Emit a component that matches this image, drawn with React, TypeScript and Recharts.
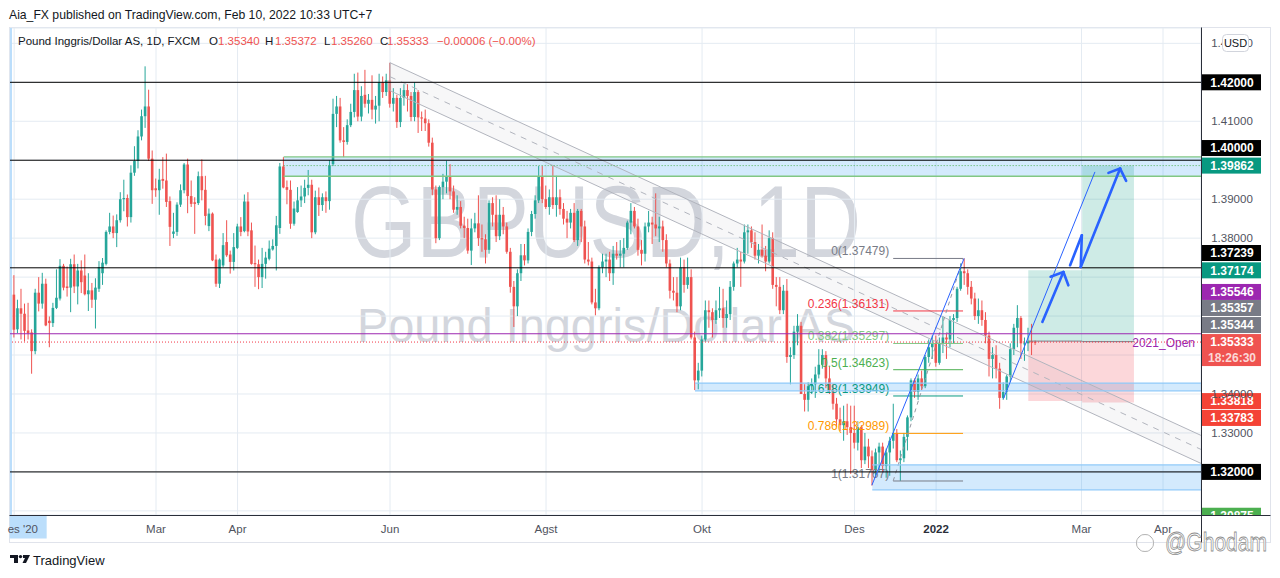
import React from 'react';
import {
  ComposedChart,
  Bar,
  Area,
  XAxis,
  YAxis,
  CartesianGrid,
  ReferenceLine,
  ReferenceArea,
} from 'recharts';

const FONT = '"Liberation Sans", Arial, Helvetica, sans-serif';
const UP = '#26a69a';
const DOWN = '#ef5350';

// GBPUSD daily (FXCM), 31 Dec 2020 .. 10 Feb 2022, values in pips above 1.00000
const opens = [
  3625, 3655, 3566, 3620, 3606, 3563, 3558, 3510, 3660, 3632, 3683, 3588, 3582, 3621, 3645, 3729, 3676, 3673, 3733, 3676, 3717,
  3704, 3656, 3666, 3642, 3670, 3710, 3734, 3816, 3830, 3813, 3846, 3900, 3903, 3854, 3968, 3998, 4061, 4113, 4138, 4004,
  3928, 3923, 3952, 3948, 3895, 3811, 3816, 3886, 3923, 3989, 3908, 3892, 3890, 3959, 3924, 3831, 3863, 3745, 3683, 3730, 3790, 3758, 3739,
  3775, 3830, 3818, 3894, 3820, 3736, 3733, 3700, 3734, 3747, 3771, 3780, 3826, 3984, 3931, 3924, 3837, 3867, 3897, 3907, 3929, 3937,
  3815, 3905, 3885, 3905, 3895, 3990, 4119, 4138, 4051, 4047, 4090, 4124, 4180, 4112, 4168, 4145, 4155, 4130, 4140, 4200, 4175,
  4205, 4145, 4160, 4098, 4160, 4180, 4165, 4111, 4175, 4110, 4107, 4095, 4045, 3925, 3800, 3931, 3945, 3957, 3920, 3873, 3880, 3832,
  3826, 3768, 3825, 3838, 3800, 3797, 3770, 3890, 3860, 3805, 3860, 3830, 3765, 3675, 3625, 3710, 3756, 3743, 3816, 3862, 3897, 3957,
  3900, 3880, 3905, 3885, 3905, 3875, 3850, 3840, 3865, 3795, 3870, 3830, 3745, 3740, 3635, 3620, 3725, 3740, 3745, 3710, 3760, 3755,
  3760, 3775, 3840, 3870, 3830, 3770, 3760, 3830, 3840, 3835, 3825, 3830, 3795, 3735, 3665, 3660, 3625, 3725, 3680, 3700, 3545, 3435,
  3460, 3540, 3615, 3610, 3590, 3615, 3620, 3595, 3605, 3675, 3735, 3745, 3740, 3815, 3820, 3790, 3755, 3770, 3755, 3740, 3800,
  3680, 3675, 3615, 3665, 3495, 3500, 3560, 3575, 3400, 3385, 3420, 3425, 3450, 3475, 3500, 3440, 3410, 3375, 3335, 3320, 3330, 3315,
  3300, 3275, 3315, 3230, 3265, 3240, 3205, 3250, 3265, 3215, 3250, 3280, 3300, 3230, 3235, 3290, 3340, 3435, 3405, 3440, 3420, 3495, 3520,
  3530, 3480, 3530, 3545, 3540, 3590, 3595, 3670, 3715, 3710, 3675, 3645, 3600, 3615, 3590, 3550, 3490, 3500, 3465, 3390, 3405,
  3445, 3515, 3570, 3595, 3530, 3530, 3535, 3534.0,
];
const highs = [
  3660, 3705, 3642, 3670, 3632, 3634, 3566, 3670, 3700, 3711, 3696, 3599, 3634, 3720, 3746, 3734, 3727, 3747, 3758, 3734, 3743,
  3758, 3710, 3685, 3697, 3741, 3749, 3820, 3865, 3858, 3861, 3918, 3950, 3912, 3987, 4036, 4077, 4130, 4241, 4181, 4025,
  3953, 3978, 4008, 4017, 3907, 3865, 3892, 3938, 3993, 4004, 3948, 3905, 3971, 4002, 3960, 3876, 3866, 3758, 3748, 3813, 3846, 3768, 3813,
  3837, 3854, 3912, 3918, 3840, 3781, 3745, 3775, 3765, 3794, 3797, 3857, 3993, 4008, 3948, 3948, 3894, 3931, 3935, 3950, 3975, 3950,
  3922, 3930, 3915, 3920, 4000, 4158, 4165, 4160, 4085, 4105, 4145, 4222, 4225, 4190, 4232, 4170, 4218, 4165, 4222, 4215, 4222,
  4250, 4185, 4168, 4185, 4195, 4195, 4175, 4200, 4180, 4125, 4130, 4105, 4058, 3935, 3935, 3965, 3999, 3990, 3935, 3910, 3895, 3855,
  3850, 3850, 3865, 3910, 3835, 3810, 3897, 3905, 3910, 3900, 3880, 3840, 3775, 3690, 3720, 3785, 3785, 3825, 3870, 3910, 3985, 3985,
  3935, 3925, 3985, 3960, 3925, 3890, 3870, 3875, 3890, 3875, 3875, 3845, 3790, 3750, 3670, 3730, 3760, 3760, 3765, 3780, 3790, 3795,
  3800, 3845, 3890, 3880, 3850, 3795, 3840, 3870, 3855, 3915, 3855, 3845, 3810, 3745, 3700, 3700, 3750, 3745, 3750, 3720, 3560, 3480,
  3550, 3640, 3640, 3620, 3640, 3675, 3670, 3640, 3690, 3740, 3775, 3765, 3835, 3835, 3830, 3815, 3785, 3835, 3780, 3820, 3815,
  3700, 3700, 3680, 3695, 3520, 3575, 3605, 3585, 3425, 3430, 3440, 3470, 3515, 3515, 3510, 3470, 3425, 3390, 3365, 3370, 3375, 3370,
  3370, 3330, 3320, 3300, 3285, 3255, 3260, 3275, 3275, 3260, 3290, 3375, 3310, 3255, 3300, 3345, 3440, 3440, 3450, 3460, 3500, 3540, 3550,
  3550, 3545, 3600, 3555, 3600, 3605, 3675, 3735, 3748, 3720, 3690, 3660, 3645, 3640, 3610, 3560, 3520, 3525, 3480, 3430, 3450,
  3530, 3580, 3628, 3600, 3545, 3570, 3580, 3537.2,
];
const lows = [
  3618, 3545, 3556, 3540, 3535, 3540, 3452, 3502, 3612, 3619, 3574, 3520, 3572, 3618, 3640, 3666, 3650, 3610, 3659, 3630, 3659,
  3653, 3613, 3621, 3568, 3662, 3680, 3730, 3810, 3800, 3777, 3840, 3869, 3830, 3840, 3960, 3979, 4051, 4083, 3998, 3888,
  3906, 3860, 3927, 3880, 3780, 3800, 3806, 3880, 3915, 3864, 3880, 3811, 3885, 3897, 3833, 3818, 3741, 3675, 3672, 3725, 3752, 3709, 3717,
  3772, 3805, 3815, 3805, 3732, 3675, 3669, 3672, 3696, 3743, 3768, 3717, 3811, 3928, 3887, 3824, 3832, 3865, 3880, 3890, 3910, 3800,
  3810, 3857, 3870, 3865, 3873, 3985, 4085, 4045, 4008, 4040, 4085, 4110, 4100, 4100, 4135, 4120, 4105, 4094, 4100, 4160, 4165,
  4135, 4125, 4083, 4085, 4140, 4125, 4100, 4100, 4070, 4075, 4075, 4035, 3910, 3787, 3795, 3900, 3915, 3900, 3865, 3860, 3825, 3800,
  3760, 3731, 3815, 3780, 3765, 3735, 3760, 3830, 3790, 3795, 3810, 3760, 3660, 3572, 3600, 3690, 3730, 3735, 3805, 3850, 3890, 3890,
  3875, 3860, 3875, 3855, 3860, 3835, 3800, 3825, 3790, 3780, 3790, 3735, 3730, 3630, 3602, 3615, 3710, 3700, 3690, 3680, 3745, 3725,
  3725, 3770, 3810, 3825, 3755, 3730, 3740, 3815, 3785, 3805, 3790, 3765, 3725, 3645, 3640, 3610, 3615, 3660, 3670, 3540, 3410, 3412,
  3445, 3535, 3570, 3545, 3580, 3595, 3570, 3570, 3590, 3665, 3725, 3675, 3735, 3760, 3775, 3745, 3735, 3750, 3715, 3735, 3670,
  3625, 3605, 3605, 3480, 3425, 3490, 3525, 3400, 3355, 3355, 3400, 3390, 3440, 3465, 3415, 3400, 3360, 3315, 3305, 3280, 3295, 3195,
  3260, 3255, 3210, 3220, 3210, 3165, 3190, 3200, 3200, 3185, 3190, 3260, 3225, 3177, 3225, 3255, 3330, 3390, 3385, 3410, 3415, 3480, 3490,
  3470, 3475, 3505, 3490, 3520, 3530, 3585, 3665, 3680, 3655, 3630, 3590, 3580, 3575, 3530, 3445, 3440, 3440, 3362, 3385, 3385,
  3430, 3500, 3520, 3490, 3485, 3510, 3500, 3526.0,
];
const closes = [
  3655, 3565, 3620, 3606, 3562, 3556, 3510, 3660, 3632, 3683, 3576, 3582, 3621, 3647, 3729, 3673, 3672, 3733, 3676, 3717, 3687,
  3656, 3666, 3642, 3673, 3726, 3737, 3816, 3830, 3813, 3846, 3900, 3903, 3854, 3968, 3998, 4061, 4113, 4138, 4004, 3923,
  3923, 3950, 3947, 3893, 3829, 3817, 3886, 3923, 3989, 3908, 3888, 3888, 3959, 3923, 3857, 3863, 3743, 3683, 3745, 3782, 3756, 3739, 3777,
  3830, 3816, 3894, 3817, 3734, 3733, 3700, 3734, 3750, 3773, 3780, 3833, 3984, 3930, 3924, 3837, 3876, 3897, 3907, 3929, 3937, 3815,
  3905, 3885, 3905, 3895, 3987, 4119, 4138, 4051, 4047, 4090, 4124, 4180, 4112, 4165, 4145, 4155, 4130, 4140, 4200, 4175, 4205,
  4145, 4160, 4098, 4160, 4180, 4165, 4111, 4175, 4110, 4107, 4095, 4045, 3925, 3800, 3931, 3945, 3957, 3920, 3873, 3880, 3832, 3826,
  3768, 3825, 3838, 3800, 3797, 3770, 3890, 3860, 3805, 3860, 3830, 3765, 3675, 3625, 3710, 3756, 3743, 3816, 3862, 3897, 3957, 3900,
  3880, 3905, 3885, 3905, 3875, 3850, 3840, 3865, 3795, 3870, 3830, 3745, 3740, 3635, 3620, 3725, 3740, 3745, 3710, 3760, 3755, 3760,
  3775, 3840, 3870, 3830, 3770, 3760, 3830, 3840, 3835, 3825, 3830, 3795, 3735, 3665, 3660, 3625, 3725, 3680, 3700, 3545, 3435, 3460,
  3540, 3615, 3610, 3590, 3615, 3620, 3595, 3605, 3675, 3735, 3745, 3740, 3815, 3820, 3790, 3755, 3770, 3755, 3740, 3800, 3680,
  3675, 3615, 3665, 3495, 3500, 3560, 3575, 3400, 3385, 3420, 3425, 3450, 3475, 3500, 3440, 3410, 3375, 3335, 3320, 3330, 3315, 3300,
  3275, 3315, 3230, 3265, 3240, 3205, 3250, 3265, 3215, 3250, 3280, 3300, 3230, 3235, 3290, 3340, 3435, 3405, 3440, 3420, 3495, 3520, 3530,
  3480, 3530, 3545, 3540, 3590, 3595, 3670, 3715, 3710, 3675, 3645, 3600, 3615, 3590, 3550, 3490, 3500, 3465, 3390, 3405, 3445,
  3515, 3570, 3595, 3530, 3530, 3535, 3534, 3533.3,
];

// time axis (bar index of first bar of the month) and labels
const monthTicks = [1, 41, 64, 107, 151, 195, 238, 261, 302, 325];
const monthLabels = ["es '20", 'Mar', 'Apr', 'Jun', 'Agst', 'Okt', 'Des', '2022', 'Mar', 'Apr'];

// price axis
const priceTicks = [3100, 3200, 3300, 3400, 3500, 3600, 3700, 3800, 3900, 4000, 4100, 4200, 4300];
const coveredTicks = [3100, 3200, 3500, 3600, 3700, 4000, 4200];
const xDomain = [-0.175, 335.71];
const yDomain = [3089.4, 4339.4];

// horizontal levels
const blackLevels = [4200, 4000, 3723.9, 3200];
const openLevel2021 = 3554.6;
const lastPrice = 3533.3;
const lastTime = '18:26:30';

// zones
const zoneStart = [77, 193, 243];
const zoneLow = [3958.9, 3408, 3154];
const zoneHigh = [4008.5, 3428, 3218];
const zoneEdge = ['#81c784', '#90caf9', '#90caf9'];
const zoneMid = 3986.2;

// descending channel
const channelX = [107, 335.71];
const channelUpper = [4250.3, 3293.7];
const channelLower = [4178.5, 3221.8];

// fibonacci retracement
const fibX = [248.9, 268.6];
const fibRatios = ['0', '0.236', '0.382', '0.5', '0.618', '0.786', '1'];
const fibPrices = [3747.9, 3613.1, 3529.7, 3462.3, 3394.9, 3298.9, 3176.7];
const fibColors = ['#787b86', '#f23645', '#81c784', '#4caf50', '#089981', '#ff9800', '#787b86'];

// thin trend lines [x1, y1, x2, y2]
const trendLines = [
  [242.9, 3166, 268.9, 3748],
  [280.0, 3388, 305.8, 3970],
];

// hand-drawn arrows (polylines of [bar, pips])
const arrowPaths = [
  [[290.97, 3585], [296.9, 3713]],
  [[293.3, 3701], [296.9, 3713], [298.3, 3679]],
  [[298.8, 3730.5], [302.1, 3807.5], [301.8, 3726], [312.9, 3978.6]],
  [[309.6, 3967.5], [312.9, 3978.6], [314.6, 3947]],
];

// long positions
const posX = [
  [287, 302.2],
  [302.2, 316.8],
];
const posEntry = [3535.7, 3534.4];
const posTarget = [3717.4, 3986.2];
const posStop = [3381.8, 3378.3];

// right-axis price tags
const tags = [
  { p: 4200, text: '1.42000', bg: '#000000', shift: 0 },
  { p: 4000, text: '1.40000', bg: '#000000', shift: -12.2 },
  { p: 3986.2, text: '1.39862', bg: '#089981', shift: 0 },
  { p: 3723.9, text: '1.37239', bg: '#000000', shift: -14.8 },
  { p: 3717.4, text: '1.37174', bg: '#089981', shift: 0 },
  { p: 3554.6, text: '1.35546', bg: '#9c27b0', shift: -41.8 },
  { p: 3535.7, text: '1.35357', bg: '#787b86', shift: -33.1 },
  { p: 3534.4, text: '1.35344', bg: '#787b86', shift: -16.6 },
  { p: 3533.3, text: '1.35333', bg: '#ef5350', shift: 0, sub: lastTime },
  { p: 3381.8, text: '1.33818', bg: '#f44336', shift: 0 },
  { p: 3378.3, text: '1.33783', bg: '#f44336', shift: 15.5 },
  { p: 3200, text: '1.32000', bg: '#000000', shift: 0 },
  { p: 3087.5, text: '1.30875', bg: '#4caf50', shift: 0, clip: true },
];

const legendParts = [
  { x: 18, text: 'Pound Inggris/Dollar AS, 1D, FXCM', red: false },
  { x: 209, text: 'O', red: false },
  { x: 218, text: '1.35340', red: true },
  { x: 265, text: 'H', red: false },
  { x: 275, text: '1.35372', red: true },
  { x: 324, text: 'L', red: false },
  { x: 331, text: '1.35260', red: true },
  { x: 380, text: 'C', red: false },
  { x: 387, text: '1.35333', red: true },
  { x: 437, text: '\u22120.00006 (\u22120.00%)', red: true },
];

const PLOT_RIGHT = 1201;
const PLOT_BOTTOM = 515;

const rows = closes.map((c, i) => ({
  i,
  o: opens[i],
  h: highs[i],
  l: lows[i],
  c,
  hl: [lows[i], highs[i]],
}));

const channelData = channelX.map((x, k) => ({ i: x, band: [channelLower[k], channelUpper[k]] }));

const fmt = (p: number) => (1 + p / 10000).toFixed(5);

function Candle(props: any) {
  const { x, y, width, height, payload } = props;
  if (!payload || x == null || y == null || isNaN(x) || isNaN(y)) return <g />;
  const { o, h, l, c } = payload;
  const top = Math.min(y, y + height);
  const span = Math.abs(height);
  const k = h > l ? span / (h - l) : 0;
  const cx = x + (width || 0) / 2;
  const yo = top + (h - o) * k;
  const yc = top + (h - c) * k;
  const col = c >= o ? UP : DOWN;
  const bTop = Math.min(yo, yc);
  const bH = Math.max(1, Math.abs(yc - yo));
  return (
    <g>
      <line x1={cx} x2={cx} y1={top} y2={top + span} stroke={col} strokeWidth={1} />
      <rect x={cx - 1.3} y={bTop} width={2.6} height={bH} fill={col} />
    </g>
  );
}

function XTick(props: any) {
  const { x, payload } = props;
  const idx = monthTicks.indexOf(payload.value);
  const label = monthLabels[idx];
  const first = idx === 0;
  return (
    <g>
      {first && <rect x={x - 4.5} y={PLOT_BOTTOM + 0.5} width={37} height={23} fill="#bbdefb" />}
      <text
        x={first ? x - 6.5 : x}
        y={PLOT_BOTTOM + 18}
        textAnchor={first ? 'start' : 'middle'}
        fontSize={11.5}
        fontFamily={FONT}
        fontWeight={label === '2022' ? 700 : 400}
        fill={label === '2022' ? '#2a2e39' : '#50535e'}
      >
        {label}
      </text>
    </g>
  );
}

function YTick(props: any) {
  const { y, payload } = props;
  if (coveredTicks.includes(payload.value)) return <g />;
  return (
    <text x={PLOT_RIGHT + 31} y={y + 4} textAnchor="middle" fontSize={11.5} fontFamily={FONT} fill="#50535e">
      {fmt(payload.value)}
    </text>
  );
}

function tagContent(tag: any) {
  return (props: any) => {
    const vb = props.viewBox || {};
    const yy = (vb.y || 0) + tag.shift;
    const x0 = PLOT_RIGHT + 1;
    const h = tag.sub ? 32 : 16;
    const clipId = 'clip-' + tag.text.replace('.', '');
    return (
      <g>
        {tag.clip && (
          <defs>
            <clipPath id={clipId}>
              <rect x={x0} y={0} width={80} height={PLOT_BOTTOM} />
            </clipPath>
          </defs>
        )}
        <g clipPath={tag.clip ? `url(#${clipId})` : undefined}>
          <rect x={x0} y={yy - 8} width={59} height={h} fill={tag.bg} />
          <text x={x0 + 30} y={yy + 4.2} textAnchor="middle" fontSize={12} fontWeight={600} fontFamily={FONT} fill="#ffffff">
            {tag.text}
          </text>
          {tag.sub && (
            <text x={x0 + 30} y={yy + 20.2} textAnchor="middle" fontSize={12} fontWeight={600} fontFamily={FONT} fill="rgba(255,255,255,0.78)">
              {tag.sub}
            </text>
          )}
        </g>
      </g>
    );
  };
}

function fibContent(text: string, color: string) {
  return (props: any) => {
    const vb = props.viewBox || {};
    return (
      <text x={(vb.x || 0) - 4} y={(vb.y || 0) - 3} textAnchor="end" fontSize={12} fontFamily={FONT} fill={color}>
        {text}
      </text>
    );
  };
}

function openContent(props: any) {
  const vb = props.viewBox || {};
  return (
    <text x={(vb.x || 0) + (vb.width || 0) - 6} y={(vb.y || 0) + 13} textAnchor="end" fontSize={12} fontFamily={FONT} fill="#9c27b0">
      2021_Open
    </text>
  );
}

export default function App() {
  return (
    <div
      style={{
        position: 'fixed',
        left: 0,
        top: 0,
        width: 1280,
        height: 578,
        background: '#ffffff',
        fontFamily: FONT,
        overflow: 'hidden',
      }}
    >
      {/* frame and watermark (behind the chart) */}
      <svg width={1280} height={578} style={{ position: 'absolute', left: 0, top: 0 }}>
        <rect x={9.5} y={27.5} width={1261} height={515} fill="#ffffff" stroke="#e0e3eb" strokeWidth={1} />
        <text
          x={606}
          y={257}
          textAnchor="middle"
          fontSize={102}
          fontFamily={FONT}
          fill="#d3d6dd"
          textLength={510}
          lengthAdjust="spacingAndGlyphs"
        >
          GBPUSD, 1D
        </text>
        <text
          x={606}
          y={342}
          textAnchor="middle"
          fontSize={49}
          fontFamily={FONT}
          fill="#d3d6dd"
          textLength={498}
          lengthAdjust="spacingAndGlyphs"
        >
          Pound Inggris/Dollar AS
        </text>
      </svg>

      <div style={{ position: 'absolute', left: 0, top: 0 }}>
        <ComposedChart width={1280} height={578} data={rows} margin={{ top: 28, right: 9, bottom: 33, left: 10 }}>
          <CartesianGrid stroke="#e4ebf2" strokeWidth={1} />
          <XAxis
            dataKey="i"
            type="number"
            domain={xDomain}
            allowDataOverflow
            ticks={monthTicks}
            interval={0}
            height={30}
            axisLine={false}
            tickLine={false}
            tick={(p: any) => <XTick {...p} />}
          />
          <YAxis
            orientation="right"
            type="number"
            domain={yDomain}
            allowDataOverflow
            ticks={priceTicks}
            interval={0}
            width={70}
            axisLine={false}
            tickLine={false}
            tick={(p: any) => <YTick {...p} />}
          />

          {/* descending channel */}
          <Area
            data={channelData}
            dataKey="band"
            type="linear"
            stroke="none"
            fill="#787b86"
            fillOpacity={0.06}
            isAnimationActive={false}
            dot={false}
            activeDot={false}
          />
          <ReferenceLine
            segment={[{ x: channelX[0], y: channelUpper[0] }, { x: channelX[1], y: channelUpper[1] }]}
            stroke="#b2b5be"
            strokeWidth={1}
          />
          <ReferenceLine
            segment={[{ x: channelX[0], y: channelLower[0] }, { x: channelX[1], y: channelLower[1] }]}
            stroke="#b2b5be"
            strokeWidth={1}
          />
          <ReferenceLine
            segment={[
              { x: channelX[0], y: (channelUpper[0] + channelLower[0]) / 2 },
              { x: channelX[1], y: (channelUpper[1] + channelLower[1]) / 2 },
            ]}
            stroke="#b2b5be"
            strokeWidth={1}
            strokeDasharray="6 6"
          />
          <ReferenceLine
            segment={[{ x: channelX[0], y: channelLower[0] }, { x: channelX[0], y: channelUpper[0] }]}
            stroke="#b2b5be"
            strokeWidth={1}
          />

          {/* drawing time marker */}
          <ReferenceLine x={0.1} stroke="#bbdefb" strokeWidth={2} />

          {/* fibonacci levels */}
          {fibPrices.map((p, k) => (
            <ReferenceLine
              key={'fib' + k}
              segment={[{ x: fibX[0], y: p }, { x: fibX[1], y: p }]}
              stroke={fibColors[k]}
              strokeWidth={1}
              label={fibContent(`${fibRatios[k]}(${fmt(p)})`, fibColors[k])}
            />
          ))}
          <ReferenceLine
            segment={[{ x: fibX[0], y: fibPrices[6] }, { x: fibX[1], y: fibPrices[0] }]}
            stroke="#9598a1"
            strokeWidth={1}
            strokeDasharray="4 4"
          />

          {/* candles */}
          <Bar dataKey="hl" barSize={3} isAnimationActive={false} shape={(p: any) => <Candle {...p} />} />

          {/* zones */}
          {zoneStart.map((x, k) => (
            <ReferenceArea
              key={'zone' + k}
              x1={x}
              x2={xDomain[1]}
              y1={zoneLow[k]}
              y2={zoneHigh[k]}
              fill="#2196f3"
              fillOpacity={0.2}
              stroke="none"
            />
          ))}
          {zoneStart.map((x, k) => (
            <ReferenceLine
              key={'zt' + k}
              segment={[{ x, y: zoneHigh[k] }, { x: xDomain[1], y: zoneHigh[k] }]}
              stroke={zoneEdge[k]}
              strokeWidth={1.3}
            />
          ))}
          {zoneStart.map((x, k) => (
            <ReferenceLine
              key={'zb' + k}
              segment={[{ x, y: zoneLow[k] }, { x: xDomain[1], y: zoneLow[k] }]}
              stroke={zoneEdge[k]}
              strokeWidth={1.3}
            />
          ))}
          <ReferenceLine
            segment={[{ x: zoneStart[0], y: zoneMid }, { x: xDomain[1], y: zoneMid }]}
            stroke="#4caf50"
            strokeDasharray="1 2"
          />

          {/* positions */}
          {posX.map((px, k) => (
            <ReferenceArea
              key={'pt' + k}
              x1={px[0]}
              x2={px[1]}
              y1={posEntry[k]}
              y2={posTarget[k]}
              fill="#089981"
              fillOpacity={0.2}
              stroke="none"
            />
          ))}
          {posX.map((px, k) => (
            <ReferenceArea
              key={'ps' + k}
              x1={px[0]}
              x2={px[1]}
              y1={posStop[k]}
              y2={posEntry[k]}
              fill="#f23645"
              fillOpacity={0.2}
              stroke="none"
            />
          ))}
          {posX.map((px, k) => (
            <ReferenceLine
              key={'pe' + k}
              segment={[{ x: px[0], y: posEntry[k] }, { x: px[1], y: posEntry[k] }]}
              stroke="#787b86"
              strokeWidth={1}
            />
          ))}

          {/* horizontal levels */}
          {blackLevels.map((p) => (
            <ReferenceLine key={'bl' + p} y={p} stroke="#000000" strokeWidth={1} />
          ))}
          <ReferenceLine y={openLevel2021} stroke="#9c27b0" strokeWidth={1} label={openContent} />
          <ReferenceLine y={lastPrice} stroke="#f23645" strokeWidth={1} strokeDasharray="1 2" />

          {/* trend lines */}
          {trendLines.map((t, k) => (
            <ReferenceLine
              key={'tl' + k}
              segment={[{ x: t[0], y: t[1] }, { x: t[2], y: t[3] }]}
              stroke="#2962ff"
              strokeWidth={1}
            />
          ))}

          {/* arrows */}
          {arrowPaths.map((path, k) =>
            path.slice(1).map((pt, j) => (
              <ReferenceLine
                key={'ar' + k + '-' + j}
                segment={[{ x: path[j][0], y: path[j][1] }, { x: pt[0], y: pt[1] }]}
                stroke="#2962ff"
                strokeWidth={2.6}
                strokeLinecap="round"
              />
            )),
          )}

          {/* right axis tags */}
          {tags.map((t) => (
            <ReferenceLine key={'tag' + t.text} y={t.p} stroke="none" ifOverflow="visible" label={tagContent(t)} />
          ))}
        </ComposedChart>
      </div>

      {/* overlay: axis lines, texts */}
      <svg width={1280} height={578} style={{ position: 'absolute', left: 0, top: 0, pointerEvents: 'none' }}>
        <line x1={PLOT_RIGHT + 0.5} x2={PLOT_RIGHT + 0.5} y1={27.5} y2={542.5} stroke="#2a2e39" strokeWidth={1} />
        <line x1={9.5} x2={1270.5} y1={PLOT_BOTTOM + 0.5} y2={PLOT_BOTTOM + 0.5} stroke="#2a2e39" strokeWidth={1} />
        <rect x={1222.5} y={34.5} width={26} height={17} rx={4} fill="#ffffff" stroke="#d1d4dc" />
        <text x={1235.5} y={47} textAnchor="middle" fontSize={11} fontFamily={FONT} fill="#131722">
          USD
        </text>
        {/* TradingView logo */}
        <rect x={10} y={555} width={8} height={3} fill="#131722" />
        <rect x={14} y={555} width={4} height={8} fill="#131722" />
        <circle cx={20.5} cy={556.6} r={1.7} fill="#131722" />
        <polygon points="23,555 30,555 26,563 22.5,563 25,558 23,558" fill="#131722" />
        <text x={33} y={565} fontSize={13} fontFamily={FONT} fill="#131722">
          TradingView
        </text>
        {/* platform watermark */}
        <circle cx={1145} cy={543} r={8.5} fill="none" stroke="#9a9a9a" strokeWidth={1} />
        <circle cx={1145} cy={543} r={8} fill="none" stroke="#ffffff" strokeWidth={0.6} />
        <text
          x={1165}
          y={551}
          fontSize={26}
          fontFamily={FONT}
          fill="#ffffff"
          stroke="#8e8e8e"
          strokeWidth={0.8}
          textLength={102}
          lengthAdjust="spacingAndGlyphs"
        >
          @Ghodam
        </text>
      </svg>

      <div style={{ position: 'absolute', left: 9, top: 8, fontSize: 12.2, lineHeight: '15px', color: '#131722', whiteSpace: 'nowrap' }}>
        Aia_FX published on TradingView.com, Feb 10, 2022 10:33 UTC+7
      </div>
      {legendParts.map((lp, k) => (
        <div
          key={'lg' + k}
          style={{
            position: 'absolute',
            left: lp.x,
            top: 34,
            fontSize: 11.5,
            lineHeight: '15px',
            color: lp.red ? '#ef5350' : '#131722',
            whiteSpace: 'nowrap',
          }}
        >
          {lp.text}
        </div>
      ))}
    </div>
  );
}
